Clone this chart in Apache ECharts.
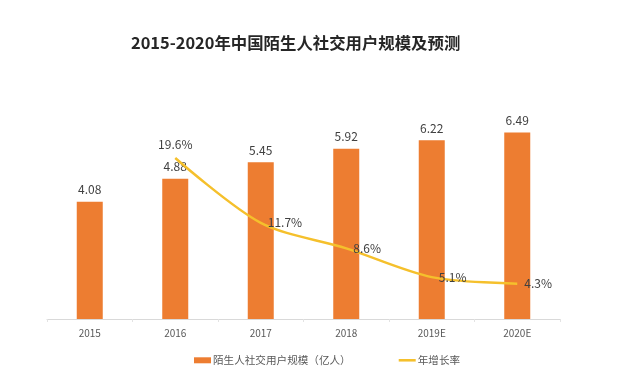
<!DOCTYPE html>
<html>
<head>
<meta charset="utf-8">
<script src="https://cdn.jsdelivr.net/npm/echarts@6/dist/echarts.min.js"></script>
<style>
html,body{margin:0;padding:0;background:#fff;}
#chart{width:640px;height:373px;}
</style>
</head>
<body>
<div id="chart"></div>
<script>
var categories = ['2015', '2016', '2017', '2018', '2019E', '2020E'];
var userScale = [4.08, 4.88, 5.45, 5.92, 6.22, 6.49];
var growthRate = [null, 19.6, 11.7, 8.6, 5.1, 4.3];
var barName = '陌生人社交用户规模（亿人）';
var lineName = '年增长率';
var titleText = '2015-2020年中国陌生人社交用户规模及预测';

var font = '"Noto Sans CJK SC", "Noto Sans", sans-serif';
var lineData = growthRate.map(function (v, i) {
  if (i === 1) {
    return { value: v, label: { position: 'top', distance: 8 } };
  }
  return v;
});
var chart = echarts.init(document.getElementById('chart'));
chart.setOption({
  backgroundColor: '#ffffff',
  animation: false,
  textStyle: { fontFamily: font },
  title: {
    text: titleText,
    left: 126,
    top: 30,
    textStyle: { fontFamily: font, fontSize: 16.4, fontWeight: 'bold', color: '#262626' }
  },
  legend: {
    left: 189,
    top: 350,
    itemGap: 48,
    itemWidth: 17,
    itemHeight: 6,
    textStyle: { fontFamily: font, fontSize: 10.6, color: '#595959', padding: [0, 0, 0, -3] },
    data: [
      { name: barName, icon: 'rect' },
      { name: lineName, icon: 'path://M0,0 L20,0 L20,3 L0,3 Z' }
    ]
  },
  grid: { left: 47, right: 80, top: 89, bottom: 54 },
  xAxis: {
    type: 'category',
    data: categories,
    axisLine: { lineStyle: { color: '#d9d9d9', width: 1 } },
    axisTick: { show: true, length: 3, lineStyle: { color: '#e3e3e3' } },
    axisLabel: { color: '#595959', fontSize: 10, margin: 9, fontFamily: font }
  },
  yAxis: [
    { type: 'value', min: 0, max: 8, show: false, splitLine: { show: false } },
    { type: 'value', min: 0, max: 28, show: false, splitLine: { show: false } }
  ],
  series: [
    {
      name: barName,
      type: 'bar',
      data: userScale,
      barWidth: 26,
      itemStyle: { color: '#ED7D31' },
      label: {
        show: true,
        position: 'top',
        distance: 6,
        color: '#404040',
        fontSize: 12,
        fontFamily: font
      }
    },
    {
      name: lineName,
      type: 'line',
      yAxisIndex: 1,
      data: lineData,
      smooth: 0.3,
      symbol: 'circle',
      symbolSize: 0.1,
      showSymbol: true,
      lineStyle: { color: '#F5C02C', width: 2.5 },
      itemStyle: { color: '#F5C02C' },
      z: 3,
      label: {
        show: true,
        position: 'right',
        distance: 7,
        color: '#404040',
        fontSize: 12,
        fontFamily: font,
        formatter: function (p) { return p.value == null ? '' : p.value + '%'; }
      },
      emphasis: { disabled: true }
    }
  ]
});
</script>
</body>
</html>
